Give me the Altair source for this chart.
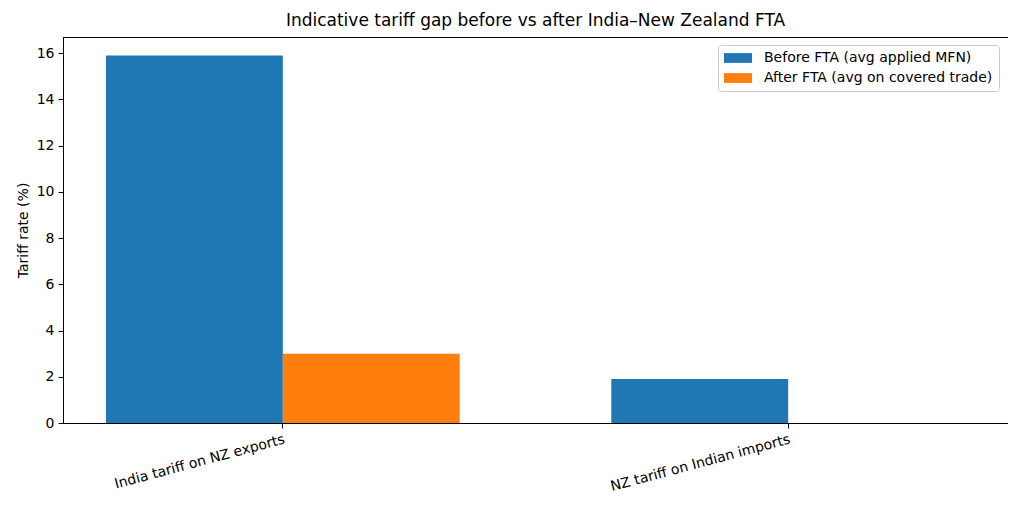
import altair as alt
import pandas as pd

categories = ["India tariff on NZ exports", "NZ tariff on Indian imports"]
series = ["Before FTA (avg applied MFN)", "After FTA (avg on covered trade)"]
before_vals = [15.9, 1.9]
after_vals = [3.0, 0.0]
colors = ["#1f77b4", "#ff7f0e"]
y_ticks = [0, 2, 4, 6, 8, 10, 12, 14, 16]

rows = []
for i, c in enumerate(categories):
    rows.append({"category": c, "series": series[0], "value": before_vals[i]})
    rows.append({"category": c, "series": series[1], "value": after_vals[i]})
df = pd.DataFrame(rows)

FONT = "DejaVu Sans"

chart = alt.Chart(df).mark_bar().encode(
    x=alt.X("category:N", sort=categories,
            scale=alt.Scale(paddingInner=0.3, paddingOuter=0.085),
            axis=alt.Axis(title=None, labelAngle=-15, labelAlign="right", labelBaseline="top",
                          labelFontSize=14, labelFont=FONT, labelColor="#000000",
                          tickSize=5, tickColor="#000000", domainColor="#000000",
                          labelPadding=4, labelLimit=400, grid=False)),
    xOffset=alt.XOffset("series:N", sort=series,
                        scale=alt.Scale(paddingInner=0, paddingOuter=0)),
    y=alt.Y("value:Q", scale=alt.Scale(domain=[0, 16.7], nice=False),
            axis=alt.Axis(values=y_ticks, title="Tariff rate (%)", titleFont=FONT,
                          titleFontSize=14, titleFontWeight="normal", titleColor="#000000",
                          titlePadding=6, labelFontSize=14, labelFont=FONT,
                          labelColor="#000000", tickSize=5, tickColor="#000000",
                          domainColor="#000000", labelPadding=4, grid=False)),
    color=alt.Color("series:N", sort=series,
                    scale=alt.Scale(domain=series, range=colors),
                    legend=alt.Legend(title=None, orient="none", legendX=655, legendY=8,
                                      symbolType="M-2,-0.7H2V0.7H-2Z", symbolSize=196,
                                      symbolOffset=7, labelOffset=19, labelLimit=400,
                                      symbolStrokeWidth=0, labelFontSize=14, labelFont=FONT,
                                      labelColor="#000000", rowPadding=6, padding=6,
                                      strokeColor="#cccccc", fillColor="rgba(255,255,255,0.8)",
                                      cornerRadius=3)),
).properties(
    width=945,
    height=386,
    autosize=alt.AutoSizeParams(type="none"),
    padding={"left": 55, "top": 29, "right": 0, "bottom": 70},
    title=alt.TitleParams("Indicative tariff gap before vs after India\u2013New Zealand FTA",
                          font=FONT, fontSize=17, fontWeight="normal", color="#000000",
                          anchor="middle", offset=7),
).configure_view(stroke="#000000", strokeWidth=1)

chart.save("out.html", embed_options={"renderer": "svg", "actions": False})
